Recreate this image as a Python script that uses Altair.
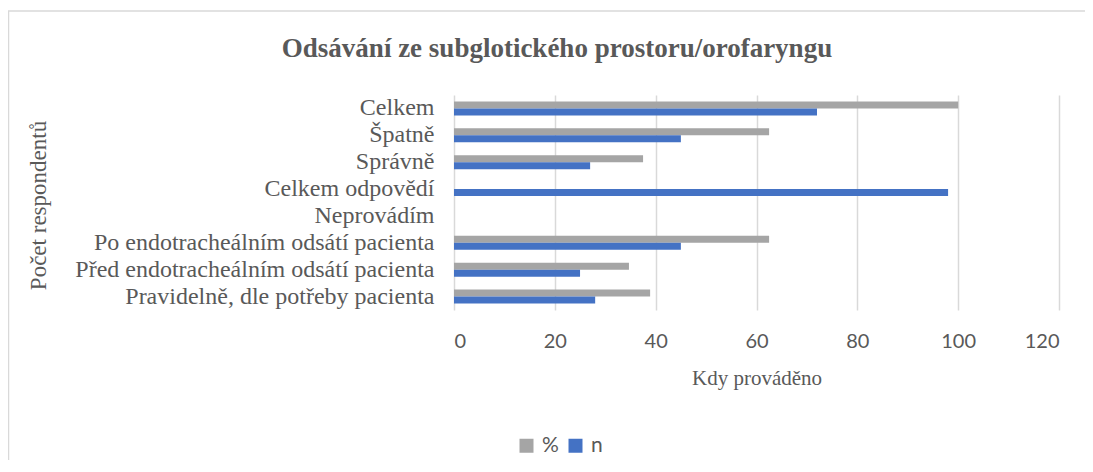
import altair as alt
import pandas as pd

title_text = "Odsávání ze subglotického prostoru/orofaryngu"
categories = [
    "Celkem",
    "Špatně",
    "Správně",
    "Celkem odpovědí",
    "Neprovádím",
    "Po endotracheálním odsátí pacienta",
    "Před endotracheálním odsátí pacienta",
    "Pravidelně, dle potřeby pacienta",
]
pct_values = [100, 62.5, 37.5, None, None, 62.5, 34.7, 38.9]
n_values = [72, 45, 27, 98, None, 45, 25, 28]
series = ["%", "n"]
colors = ["#A5A5A5", "#4472C4"]
x_ticks = [0, 20, 40, 60, 80, 100, 120]

rows = []
for c, p, n in zip(categories, pct_values, n_values):
    if p is not None:
        rows.append({"cat": c, "series": "%", "value": p})
    if n is not None:
        rows.append({"cat": c, "series": "n", "value": n})
df = pd.DataFrame(rows)

SERIF = "Liberation Serif"
SANS = "Lato"
GREY_TXT = "#595959"

bars = alt.Chart(df).mark_bar(size=7).encode(
    x=alt.X(
        "value:Q",
        scale=alt.Scale(domain=[0, 120], nice=False),
        axis=alt.Axis(
            values=x_ticks,
            title="Kdy prováděno",
            titleFont=SERIF,
            titleFontSize=21,
            titleFontWeight="normal",
            titleColor=GREY_TXT,
            titleY=68,
            titleBaseline="middle",
            labelFont=SANS,
            labelFontSize=20,
            labelColor=GREY_TXT,
            labelPadding=21,
            domain=False,
            ticks=False,
            grid=True,
            gridColor="#D9D9D9",
            gridWidth=1.5,
        ),
    ),
    y=alt.Y(
        "cat:N",
        sort=categories,
        scale=alt.Scale(domain=categories, paddingInner=0, paddingOuter=0),
        axis=alt.Axis(
            title="Počet respondentů",
            titleFont=SERIF,
            titleFontSize=23,
            titleFontWeight="normal",
            titleColor=GREY_TXT,
            titleX=-416,
            titleY=110,
            titleBaseline="middle",
            labelFont=SERIF,
            labelFontSize=24,
            labelColor=GREY_TXT,
            labelPadding=20,
            labelLimit=0,
            domain=False,
            ticks=False,
            grid=False,
        ),
    ),
    yOffset=alt.YOffset(
        "series:N",
        sort=series,
        scale=alt.Scale(domain=series, paddingInner=0, paddingOuter=0.95),
    ),
    color=alt.Color(
        "series:N",
        scale=alt.Scale(domain=series, range=colors),
        legend=alt.Legend(
            title=None,
            orient="none",
            legendX=62,
            legendY=340,
            direction="horizontal",
            symbolType="square",
            symbolSize=196,
            symbolStrokeWidth=0,
            labelFont=SANS,
            labelFontSize=21,
            labelColor=GREY_TXT,
            labelOffset=5,
            columnPadding=6,
        ),
    ),
)

one_row = alt.Data(values=[{"t": title_text}])
top_border = alt.Chart(one_row).mark_rule(color="#D9D9D9", strokeWidth=1.5).encode(
    x=alt.value(-446), x2=alt.value(650), y=alt.value(-84)
)
left_border = alt.Chart(one_row).mark_rule(color="#D9D9D9", strokeWidth=1.5).encode(
    x=alt.value(-445.5), y=alt.value(-84), y2=alt.value(370)
)
title_mark = alt.Chart(one_row).mark_text(
    font=SERIF, fontSize=27, fontWeight="bold", color=GREY_TXT,
    align="center", baseline="middle",
).encode(text="t:N", x=alt.value(103), y=alt.value(-46))

chart = alt.layer(top_border, left_border, title_mark, bars).properties(
    width=605,
    height=215,
    autosize=alt.AutoSizeParams(type="none"),
    padding={"left": 446, "top": 87, "right": 26, "bottom": 150},
).configure_view(stroke=None)

chart.save("out.html", embed_options={"renderer": "svg", "actions": False})
